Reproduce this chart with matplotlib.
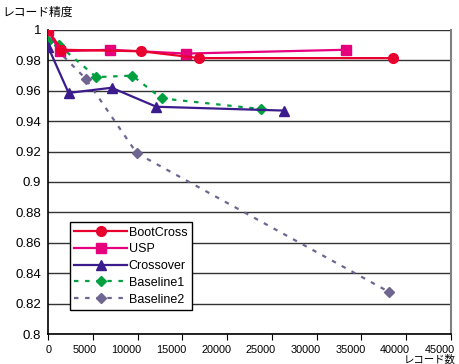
import matplotlib
matplotlib.use("Agg")
import matplotlib.pyplot as plt
from matplotlib.transforms import ScaledTranslation

plt.rcParams['font.family'] = ['Liberation Sans', 'Noto Sans CJK JP']

boot_x = [0, 1500, 10400, 16900, 38500]
boot_y = [1.0, 0.987, 0.986, 0.9815, 0.9815]

usp_x = [0, 1300, 6900, 15400, 33300]
usp_y = [1.0, 0.986, 0.987, 0.9845, 0.987]

cross_x = [0, 2300, 7100, 12100, 26300]
cross_y = [0.989, 0.9586, 0.962, 0.9495, 0.947]

base1_x = [0, 1200, 5400, 9400, 12700, 23800]
base1_y = [0.993, 0.990, 0.969, 0.970, 0.955, 0.948]

base2_x = [0, 4200, 9900, 38100]
base2_y = [0.993, 0.968, 0.919, 0.8276]

yticks = [0.8, 0.82, 0.84, 0.86, 0.88, 0.9, 0.92, 0.94, 0.96, 0.98, 1.0]
ytick_labels = ['0.8', '0.82', '0.84', '0.86', '0.88', '0.9', '0.92', '0.94', '0.96', '0.98', '1']
xticks = list(range(0, 45001, 5000))

fig = plt.figure(figsize=(4.59, 3.64), dpi=100)
ax = fig.add_axes([0.1046, 0.0824, 0.8780, 0.8352])

for y in yticks:
    ax.axhline(y, color='0.2', lw=1.0, zorder=1)

ax.plot(base2_x, base2_y, color='#6e6690', ls=(0, (2, 3)), lw=1.6, marker='D', ms=5,
        label='Baseline2', zorder=2)
ax.plot(base1_x, base1_y, color='#00a040', ls=(0, (2, 3)), lw=1.6, marker='D', ms=5,
        label='Baseline1', zorder=3)
ax.plot(cross_x, cross_y, color='#3b1c8c', lw=1.6, marker='^', ms=7,
        label='Crossover', zorder=4)
ax.plot(usp_x, usp_y, color='#e6007e', lw=1.6, marker='s', ms=6.5,
        label='USP', zorder=5)
ax.plot(boot_x, boot_y, color='#e8002f', lw=1.6, marker='o', ms=7,
        label='BootCross', zorder=6)

ax.set_xlim(0, 45000)
ax.set_ylim(0.8, 1.0)
ax.set_xticks(xticks)
ax.set_xticklabels([str(x) for x in xticks])
ax.set_yticks(yticks)
ax.set_yticklabels(ytick_labels)
ax.tick_params(axis='y', length=0, labelsize=9.5, pad=5)
ax.tick_params(axis='x', direction='out', length=4, labelsize=7.8, pad=4)

# labels sit a little left of their ticks, as in the source
shift = ScaledTranslation(4 / 100, 0, fig.dpi_scale_trans)
for lab in ax.get_xticklabels():
    lab.set_ha('right')
    lab.set_transform(lab.get_transform() + shift)

ax.spines['top'].set_visible(False)
ax.spines['right'].set_color('0.5')
ax.spines['right'].set_linewidth(1.5)
ax.spines['left'].set_linewidth(1.2)
ax.spines['bottom'].set_linewidth(1.2)

handles, labels = ax.get_legend_handles_labels()
order = [4, 3, 2, 1, 0]
leg = ax.legend([handles[i] for i in order], [labels[i] for i in order],
                loc='lower left', bbox_to_anchor=(0.0546, 0.079), borderaxespad=0,
                fancybox=False, framealpha=1, edgecolor='black', handlelength=4.2,
                handletextpad=0.15, borderpad=0.35, labelspacing=0.38, fontsize=9)
leg.get_frame().set_linewidth(1.0)

fig.text(0.006, 0.985, 'レコード精度', ha='left', va='top', fontsize=8.5,
         family=['Noto Sans CJK JP', 'DejaVu Sans'])
fig.text(0.992, 1 - 355 / 364, 'レコード数', ha='right', va='top', fontsize=7.5,
         family=['Noto Sans CJK JP', 'DejaVu Sans'])

fig.savefig('out.png', dpi=100)
